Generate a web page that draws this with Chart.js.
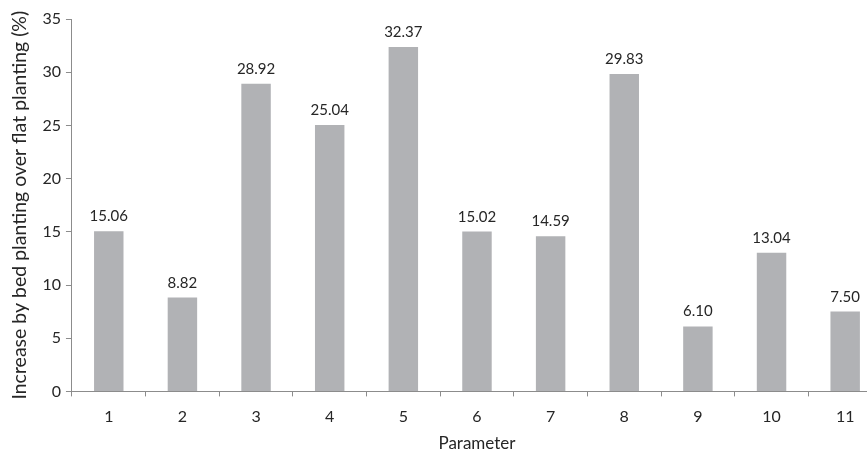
<!DOCTYPE html>
<html><head><meta charset="utf-8">
<script src="https://cdn.jsdelivr.net/npm/chart.js@4"></script>
<style>
html,body{margin:0;padding:0;background:#fff;overflow:hidden;}
#wrap{width:882px;height:454px;position:relative;}
</style></head>
<body><div id="wrap"><canvas id="c"></canvas></div>
<script>
const categories = ['1','2','3','4','5','6','7','8','9','10','11'];
const values = [15.06, 8.82, 28.92, 25.04, 32.37, 15.02, 14.59, 29.83, 6.10, 13.04, 7.50];
const yTicks = [0, 5, 10, 15, 20, 25, 30, 35];
const xTitle = 'Parameter';
const yTitle = 'Increase by bed planting over flat planting (%)';

const FONT = 'Lato, "Open Sans", sans-serif';
const TXT = '#262626';
const AX = '#8c8c8c';

const labelPlugin = {
  id: 'valLabels',
  afterDatasetsDraw(chart) {
    const ctx = chart.ctx;
    const meta = chart.getDatasetMeta(0);
    ctx.save();
    ctx.font = '15px ' + FONT;
    ctx.fillStyle = TXT;
    ctx.textAlign = 'center';
    ctx.textBaseline = 'alphabetic';
    meta.data.forEach((el, i) => {
      ctx.fillText(values[i].toFixed(2), el.x, el.y - 10);
    });
    ctx.restore();
  }
};

new Chart(document.getElementById('c'), {
  type: 'bar',
  data: {
    labels: categories,
    datasets: [{
      data: values,
      backgroundColor: '#b1b2b5',
      barPercentage: 0.4,
      categoryPercentage: 1.0
    }]
  },
  options: {
    responsive: true,
    maintainAspectRatio: false,
    animation: false,
    layout: { padding: { top: 19, right: 0, left: 8, bottom: 0 } },
    plugins: { legend: { display: false }, tooltip: { enabled: false } },
    scales: {
      x: {
        offset: true,
        grid: { offset: true, drawOnChartArea: false, drawTicks: true, tickLength: 5, color: AX },
        border: { color: AX, width: 1 },
        ticks: { color: TXT, font: { family: FONT, size: 16 }, padding: 11, maxRotation: 0 },
        title: { display: true, text: xTitle, color: TXT, font: { family: FONT, size: 17 }, padding: { top: -4, bottom: 0 } }
      },
      y: {
        min: 0, max: 35,
        afterBuildTicks(axis) { axis.ticks = yTicks.map(v => ({ value: v })); },
        grid: { drawOnChartArea: false, drawTicks: true, tickLength: 6, color: AX },
        border: { color: AX, width: 1 },
        ticks: { color: TXT, font: { family: FONT, size: 16 }, padding: 5 },
        title: { display: true, text: yTitle, color: TXT, font: { family: FONT, size: 19.5 }, padding: { top: 0, bottom: 6 } }
      }
    }
  },
  plugins: [labelPlugin]
});
</script></body></html>
